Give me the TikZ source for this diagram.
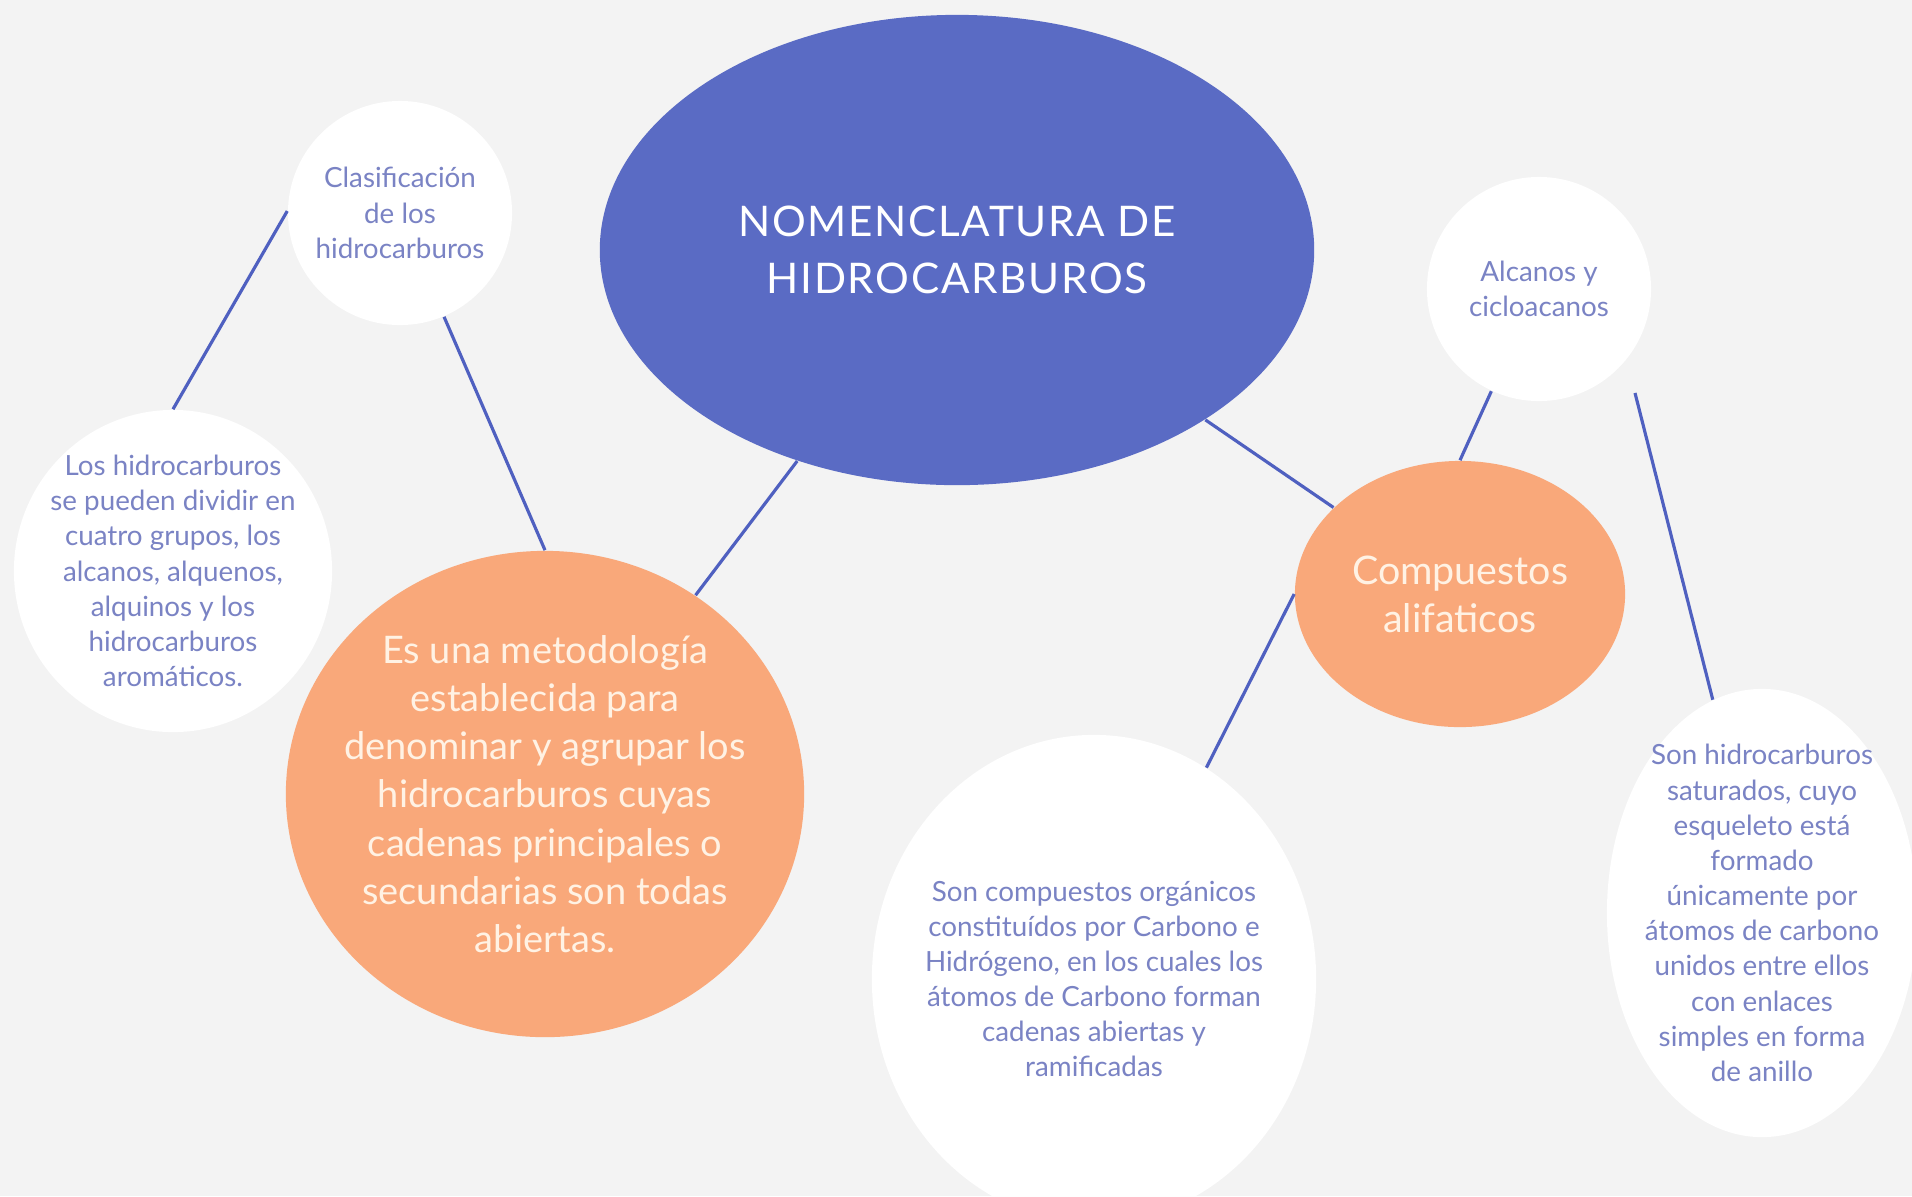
\documentclass[tikz,border=0pt]{standalone}
\usepackage{fontspec}
\setmainfont{Lato}
\newfontfamily\titlefont[LetterSpace=4]{Lato}
\usetikzlibrary{shapes.geometric}
\definecolor{bggray}{HTML}{F3F3F3}
\definecolor{mainblue}{HTML}{5A6BC4}
\definecolor{linkblue}{HTML}{4F60C0}
\definecolor{peach}{HTML}{F9A87A}
\definecolor{txtblue}{HTML}{7A83C4}
\definecolor{cream}{HTML}{FFF2E4}
\tikzset{
  bubble/.style={ellipse, fill=white, inner sep=0pt},
  blob/.style={ellipse, fill=peach, inner sep=0pt},
  smalltxt/.style={text=txtblue, align=center, inner sep=0pt,
    font=\fontsize{7.9}{10}\selectfont},
  bigtxt/.style={text=cream, align=center, inner sep=0pt,
    font=\fontsize{10.8}{13.7}\selectfont},
}
\begin{document}
\begin{tikzpicture}[x=0.01cm, y=-0.01cm]
      \fill[bggray] (0,0) rectangle (1912,1196);
      \useasboundingbox (0,0) rectangle (1912,1196);
      \clip (0,0) rectangle (1912,1196);
      \path
        (957,250) node[ellipse, fill=mainblue, minimum width=7.14cm, minimum height=4.70cm] (nomen){}
        (400,213) node[bubble, minimum width=2.24cm, minimum height=2.24cm] (clasif){}
        (173,571) node[bubble, minimum width=3.18cm, minimum height=3.22cm] (grupos){}
        (545,794) node[blob, minimum width=5.18cm, minimum height=4.86cm] (metod){}
        (1460,594) node[blob, minimum width=3.30cm, minimum height=2.66cm] (alifat){}
        (1539,289) node[bubble, minimum width=2.24cm, minimum height=2.24cm] (alcanos){}
        (1094,979) node[bubble, minimum width=4.44cm, minimum height=4.88cm] (organ){}
        (1762,913) node[bubble, minimum width=3.10cm, minimum height=4.48cm] (satur){};
      \path
        (nomen) node[text=white, align=center, font=\titlefont\fontsize{12}{16}\selectfont] (nomen-t){NOMENCLATURA DE\\HIDROCARBUROS}
        (clasif) node[smalltxt] (clasif-t){Clasificación\\de los\\hidrocarburos}
        (grupos) node[smalltxt] (grupos-t){Los hidrocarburos\\se pueden dividir en\\cuatro grupos, los\\alcanos, alquenos,\\alquinos y los\\hidrocarburos\\aromáticos.}
        (metod) node[bigtxt] (metod-t){Es una metodología\\establecida para\\denominar y agrupar los\\hidrocarburos cuyas\\cadenas principales o\\secundarias son todas\\abiertas.}
        (alifat) node[bigtxt, font=\fontsize{11.2}{13.7}\selectfont] (alifat-t){Compuestos\\alifaticos}
        (alcanos) node[smalltxt] (alcanos-t){Alcanos y\\cicloacanos}
        (organ) node[smalltxt] (organ-t){Son compuestos orgánicos\\constituídos por Carbono e\\Hidrógeno, en los cuales los\\átomos de Carbono forman\\cadenas abiertas y\\ramificadas}
        (satur) node[smalltxt] (satur-t){Son hidrocarburos\\saturados, cuyo\\esqueleto está\\formado\\únicamente por\\átomos de carbono\\unidos entre ellos\\con enlaces\\simples en forma\\de anillo};
      \begin{scope}[draw=linkblue, line width=0.9pt]
        \draw (clasif.179) to (grupos.north);
        \draw (clasif.-67) to (metod.north);
        \draw (nomen) to (metod);
        \draw (nomen) to (alifat);
        \draw (alcanos.-115) to (alifat.north);
        \draw[shorten <=0.34cm] (alcanos.-39) to (satur.103);
        \draw (alifat.west) to (organ.62);
      \end{scope}
    \end{tikzpicture}
\end{document}
